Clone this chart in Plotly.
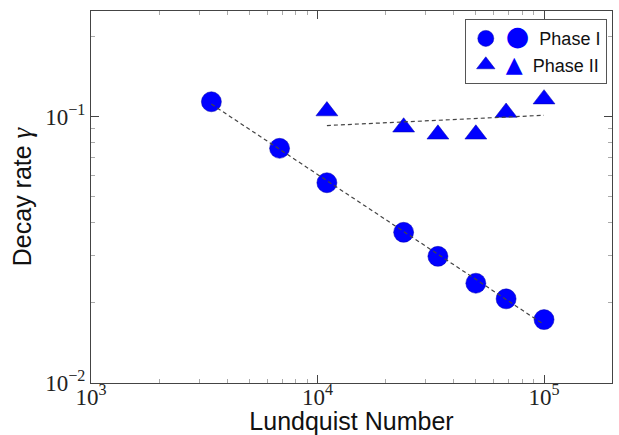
import numpy as np
import plotly.graph_objects as go

# ---- data ----
lundquist_phase1 = [3400, 6800, 11000, 24000, 34000, 50000, 68000, 100000]
decay_phase1 = [0.1138, 0.0761, 0.0565, 0.0368, 0.0299, 0.0237, 0.0207, 0.0173]
lundquist_phase2 = [11000, 24000, 34000, 50000, 68000, 100000]
decay_phase2 = [0.1050, 0.0913, 0.0859, 0.0859, 0.1037, 0.1164]

x_tickvals = [1e3, 1e4, 1e5]
x_ticktext = ["10<sup>3</sup>", "10<sup>4</sup>", "10<sup>5</sup>"]
y_tickvals = [1e-2, 1e-1]
y_ticktext = ["10<sup>\u22122</sup>", "10<sup>\u22121</sup>"]

series_names = ["Phase I", "Phase II"]
# -----------------------------------------------

BLUE = "#0000ff"
FRAME = "#444444"


def powerlaw_fit(xs, ys):
    lx, ly = np.log10(xs), np.log10(ys)
    slope, icpt = np.polyfit(lx, ly, 1)
    xe = np.array([min(xs), max(xs)], dtype=float)
    return xe, 10 ** (icpt + slope * np.log10(xe))


fig = go.Figure()

fig.add_trace(go.Scatter(
    x=lundquist_phase1, y=decay_phase1, mode="markers",
    name='<span style="font-family:DejaVu Sans;font-size:27px;color:#0000ff">\u25CF</span>  ' + series_names[0],
    marker=dict(symbol="circle", size=20, color=BLUE, line=dict(width=0.5, color="#0000aa")),
))
fig.add_trace(go.Scatter(
    x=lundquist_phase2, y=decay_phase2, mode="markers",
    name='<span style="font-family:DejaVu Sans;font-size:22px;color:#0000ff">\u25B2</span>  ' + series_names[1],
    marker=dict(symbol="triangle-up", size=19, color=BLUE, line=dict(width=0.5, color="#0000aa")),
))

for xs, ys in [(lundquist_phase1, decay_phase1), (lundquist_phase2, decay_phase2)]:
    fx, fy = powerlaw_fit(xs, ys)
    fig.add_trace(go.Scatter(
        x=fx, y=fy, mode="lines", showlegend=False, hoverinfo="skip",
        line=dict(color="#444444", width=1.2, dash="4px,3px"),
    ))

minor_x = [m * 10 ** e for e in range(3, 6) for m in range(2, 10)]
minor_y = [m * 10 ** e for e in range(-2, 0) for m in range(2, 10)]

axis_common = dict(
    showgrid=False, zeroline=False, showline=True, linecolor=FRAME, linewidth=1,
    mirror="ticks", ticks="inside", ticklen=8, tickcolor=FRAME, tickwidth=1,
    automargin=False,
    tickfont=dict(family="Liberation Serif", size=23, color="#222222"),
    title_font=dict(family="Liberation Sans", size=25, color="#111111"),
)

fig.update_xaxes(
    type="log", range=[3, 5.3], tickmode="array", tickvals=x_tickvals, ticktext=x_ticktext,
    title_text="Lundquist Number", title_standoff=0, ticklabelstandoff=-7,
    minor=dict(tickmode="array", tickvals=minor_x, ticks="inside", ticklen=4,
               tickcolor="#aaaaaa", showgrid=False),
    **axis_common,
)
fig.update_yaxes(
    type="log", range=[-2, -0.603], tickmode="array", tickvals=y_tickvals, ticktext=y_ticktext,
    title_text='Decay rate <span style="font-family:Liberation Serif;font-size:27px"><i>\u03B3</i></span>',
    title_standoff=6,
    minor=dict(tickmode="array", tickvals=minor_y, ticks="inside", ticklen=4,
               tickcolor="#aaaaaa", showgrid=False),
    **axis_common,
)

fig.update_layout(
    width=619, height=435,
    margin=dict(l=91, r=7, t=11, b=52),
    paper_bgcolor="white", plot_bgcolor="white",
    showlegend=True,
    legend=dict(
        x=0.99, y=0.978, xanchor="right", yanchor="top",
        bgcolor="white", bordercolor="#555555", borderwidth=1,
        font=dict(family="Liberation Sans", size=18, color="#111111"),
        tracegroupgap=0, itemwidth=30,
    ),
)

fig.write_html("out.html")
